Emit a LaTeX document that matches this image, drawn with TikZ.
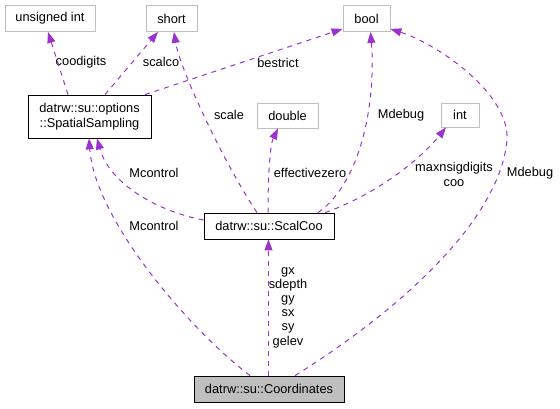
\documentclass[tikz,border=0pt]{standalone}
\usepackage{fontspec}
\setmainfont{Liberation Sans}
\usetikzlibrary{arrows.meta}
\definecolor{edgecol}{HTML}{9A32CD}
\definecolor{boxgray}{HTML}{BFBFBF}
\begin{document}
\begin{tikzpicture}[x=1pt,y=-1pt]
\tikzstyle{every node}=[font=\fontsize{12.8}{15}\selectfont,inner sep=0pt]
\tikzstyle{cls}=[draw=black,line width=0.8pt,minimum height=26,align=center]
\tikzstyle{ext}=[draw=boxgray,line width=0.8pt,minimum height=26]
\tikzstyle{lbl}=[align=center]
\tikzstyle{edge}=[color=edgecol,line width=1pt,dash pattern=on 5pt off 5pt,-{Triangle[length=11pt,width=8pt]}]
\useasboundingbox (0,0) rectangle (560,408);
\node[ext,minimum width=90] at (50,18.5) (uint) {unsigned int};
\node[ext,minimum width=51] at (171.5,18.5) (short) {short};
\node[ext,minimum width=47] at (366.5,18.5) (bool) {bool};
\node[cls,minimum width=123,minimum height=43] at (89.5,116.5) (ss) {datrw::su::options\\::SpatialSampling};
\node[ext,minimum width=61,minimum height=25] at (287.5,115.5) (double) {double};
\node[ext,minimum width=38,minimum height=24] at (460,115) (int) {int};
\node[cls,minimum width=130] at (269,226) (sc) {datrw::su::ScalCoo};
\node[cls,fill=boxgray,minimum width=150] at (269,389) (coord) {datrw::su::Coordinates};
\coordinate (mdbend) at (507,140);
% edge labels
\node[lbl] at (81,62) (lcoodig) {coodigits};
\node[lbl] at (161,62) (lscalco) {scalco};
\node[lbl] at (278,63) (lbestr) {bestrict};
\node[lbl] at (229,115) (lscale) {scale};
\node[lbl] at (401,115) (lmdb) {Mdebug};
\node[lbl] at (310,173) (leffz) {effectivezero};
\node[lbl] at (154,173) (lmcup) {Mcontrol};
\node[lbl] at (154,226) (lmclo) {Mcontrol};
\node[lbl] at (454,174) (lmaxn) {maxnsigdigits\\coo};
\node[lbl] at (530,173) (lmdbr) {Mdebug};
\node[lbl,font=\fontsize{12.8}{14.2}\selectfont] at (288,307.5) (lcoord) {gx\\sdepth\\gy\\sx\\sy\\gelev};
\draw[edge] ([xshift=-21.5pt]ss.north) -- ([xshift=-2pt]uint.south);
\draw[edge] ([xshift=15.5pt]ss.north) -- ([xshift=-13.5pt]short.south);
\draw[edge] ([xshift=55.5pt]ss.north) -- ([yshift=3pt]bool.south west);
\draw[edge] ([xshift=-12pt]sc.north) .. controls (225,165) and (180,70) .. ([xshift=2.5pt]short.south);
\draw[edge] ([xshift=49pt]sc.north) .. controls (362,182) and (376,100) .. ([xshift=4pt]bool.south);
\draw[edge] ([xshift=-1pt]sc.north) .. controls (268,175) and (270,145) .. ([xshift=-9.5pt]double.south);
\draw[edge] ([xshift=56pt]sc.north) .. controls (375,195) and (420,160) .. ([xshift=-14pt]int.south);
\draw[edge] ([yshift=6pt]sc.west) .. controls (160,212) and (110,185) .. ([xshift=7.5pt]ss.south);
\draw[edge] ([xshift=-19pt]coord.north) .. controls (190,330) and (95,220) .. ([xshift=-0.5pt]ss.south);
\draw[edge] ([xshift=-0.5pt]coord.north) -- ([xshift=-0.5pt]sc.south);
\draw[edge] ([xshift=26pt]coord.north) .. controls (400,310) and (500,220) .. (mdbend)
            .. controls (510,95) and (440,45) .. ([yshift=3pt]bool.south east);
\end{tikzpicture}
\end{document}
